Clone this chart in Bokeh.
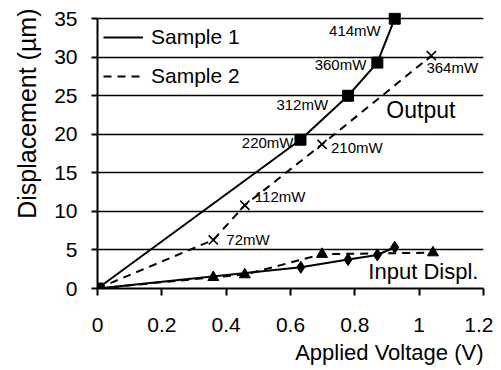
from bokeh.plotting import figure
from bokeh.models import (FixedTicker, Legend, LegendItem, ColumnDataSource, Range1d, Title)
from bokeh.core.properties import value
from bokeh.embed import file_html
from bokeh.resources import INLINE

FONT = "Liberation Sans"

# ---- data ----
s1_out_v = [0.0, 0.631, 0.779, 0.870, 0.924]
s1_out_d = [0.0, 19.3, 25.0, 29.3, 35.0]
s1_out_lbl = ["", "220mW", "312mW", "360mW", "414mW"]

s2_out_v = [0.0, 0.360, 0.458, 0.698, 1.038]
s2_out_d = [0.0, 6.3, 10.8, 18.7, 30.2]
s2_out_lbl = ["", "72mW", "112mW", "210mW", "364mW"]

s1_in_v = [0.0, 0.632, 0.779, 0.870, 0.924]
s1_in_d = [0.0, 2.75, 3.75, 4.35, 5.35]

s2_in_v = [0.0, 0.360, 0.458, 0.698, 1.043]
s2_in_d = [0.0, 1.45, 1.8, 4.45, 4.65]

x_ticks = [0, 0.2, 0.4, 0.6, 0.8, 1.0, 1.2]
x_tick_labels = ["0", "0.2", "0.4", "0.6", "0.8", "1", "1.2"]
y_ticks = [0, 5, 10, 15, 20, 25, 30, 35]

x_title = "Applied Voltage (V)"
y_title = "Displacement (µm)"
series_names = ["Sample 1", "Sample 2"]

# label offsets (screen px), styling only
s1_lbl_dx = [0, -7, -20, -11, -14]
s1_lbl_dy = [0, 3, 9, 2, 12]
s2_lbl_dx = [0, 13, 10, 9, -5]
s2_lbl_dy = [0, 0, -9, 3, 12]

p = figure(width=493, height=370, output_backend="svg", toolbar_location=None,
           x_range=Range1d(0, 1.2), y_range=Range1d(0, 35.8),
           min_border_left=96, min_border_right=10, min_border_top=12, min_border_bottom=82)
p.outline_line_color = None
p.background_fill_color = "white"
p.border_fill_color = "white"

p.xgrid.grid_line_color = None
p.ygrid.grid_line_color = "black"
p.ygrid.grid_line_width = 1.5
p.ygrid.ticker = FixedTicker(ticks=y_ticks)

p.xaxis.ticker = FixedTicker(ticks=x_ticks)
p.xaxis.major_label_overrides = {t: l for t, l in zip(x_ticks, x_tick_labels)}
p.yaxis.ticker = FixedTicker(ticks=y_ticks)
p.yaxis.bounds = (0, 35)
for ax in (p.xaxis, p.yaxis):
    ax.axis_line_color = "black"
    ax.axis_line_width = 2
    ax.major_tick_line_color = "black"
    ax.major_tick_line_width = 2
    ax.major_tick_in = 0
    ax.minor_tick_line_color = None
    ax.major_label_text_font = FONT
    ax.major_label_text_font_size = "21px"
    ax.major_label_text_color = "black"
p.xaxis.major_tick_out = 7
p.yaxis.major_tick_out = 6
p.xaxis.major_label_standoff = 22
p.yaxis.major_label_standoff = 14

# axis titles (right/top aligned like the reference)
xt = Title(text=x_title, align="right", text_font=FONT, text_font_size="22px",
           text_font_style="normal", text_color="black", standoff=6, text_line_height=1.0)
p.add_layout(xt, "below")
yt = Title(text=y_title, align="right", text_font=FONT, text_font_size="25px",
           text_font_style="normal", text_color="black", standoff=21, offset=-4,
           text_line_height=1.0)
p.add_layout(yt, "left")

# output curves
r1 = p.line(s1_out_v, s1_out_d, line_color="black", line_width=2)
p.scatter(s1_out_v, s1_out_d, marker="square", size=11, color="black")
r2 = p.line(s2_out_v, s2_out_d, line_color="black", line_width=2, line_dash="8 6")
p.scatter(s2_out_v, s2_out_d, marker="x", size=13, line_color="black", line_width=1.6)

# input curves
p.line(s1_in_v, s1_in_d, line_color="black", line_width=2)
p.scatter(s1_in_v, s1_in_d, marker="diamond", size=12, color="black")
p.line(s2_in_v, s2_in_d, line_color="black", line_width=2, line_dash="8 6")
p.scatter(s2_in_v, s2_in_d, marker="triangle", size=11, color="black")

# power labels
src1 = ColumnDataSource(dict(x=s1_out_v, y=s1_out_d, t=s1_out_lbl, dx=s1_lbl_dx, dy=s1_lbl_dy))
p.text(x="x", y="y", text="t", x_offset="dx", y_offset="dy", source=src1,
       text_align="right", text_baseline="middle", text_font=value(FONT),
       text_font_size="15px", text_color="black")
src2 = ColumnDataSource(dict(x=s2_out_v, y=s2_out_d, t=s2_out_lbl, dx=s2_lbl_dx, dy=s2_lbl_dy))
p.text(x="x", y="y", text="t", x_offset="dx", y_offset="dy", source=src2,
       text_align="left", text_baseline="middle", text_font=value(FONT),
       text_font_size="15px", text_color="black")

# curve group annotations
p.text(x=[0.898], y=[23.1], text=["Output"], text_align="left", text_baseline="middle",
       text_font=value(FONT), text_font_size="23px", text_color="black")
p.text(x=[0.842], y=[2.2], text=["Input Displ."], text_align="left", text_baseline="middle",
       text_font=value(FONT), text_font_size="22px", text_color="black")

legend = Legend(items=[LegendItem(label=series_names[0], renderers=[r1]),
                       LegendItem(label=series_names[1], renderers=[r2])],
                location=(6, 200))
legend.background_fill_alpha = 0
legend.border_line_color = None
legend.label_text_font = FONT
legend.label_text_font_size = "21px"
legend.label_text_color = "black"
legend.glyph_width = 40
legend.glyph_height = 24
legend.label_height = 24
legend.label_standoff = 8
legend.spacing = 15
legend.padding = 0
legend.margin = 0
p.add_layout(legend)

open("out.html", "w").write(file_html(p, INLINE))
